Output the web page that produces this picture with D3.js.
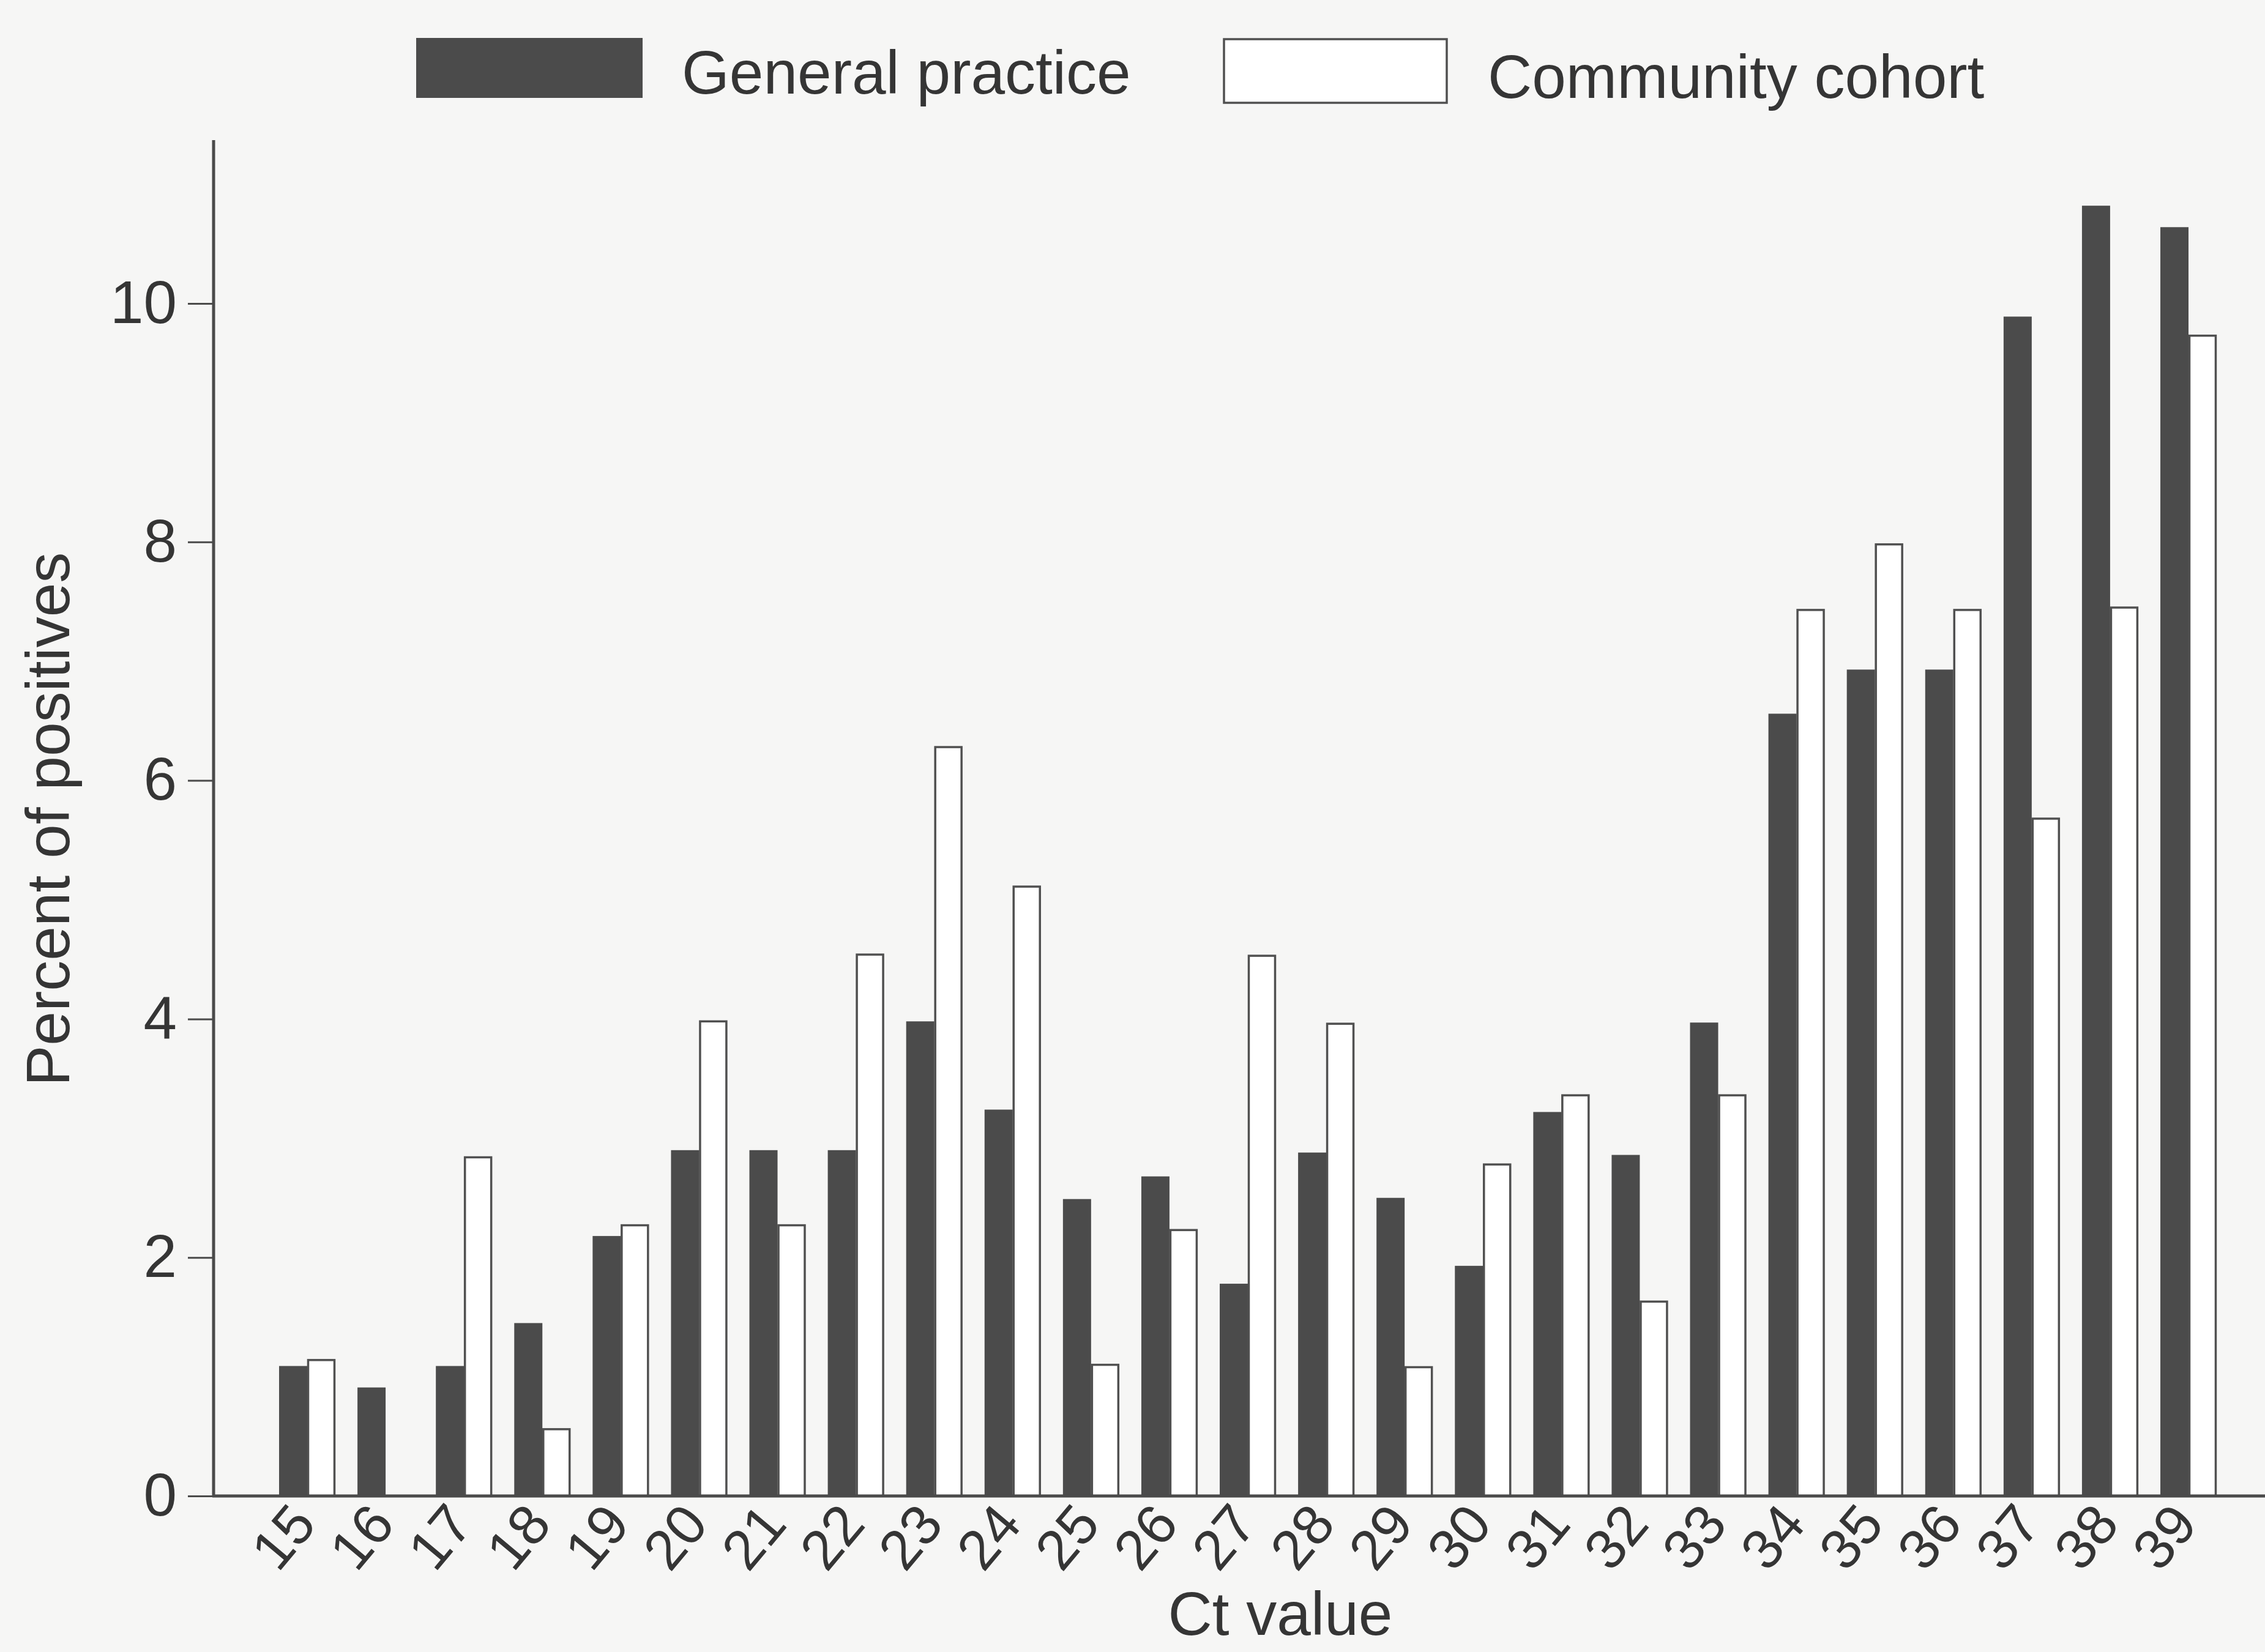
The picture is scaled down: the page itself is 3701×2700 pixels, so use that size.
<!DOCTYPE html>
<html>
<head>
<meta charset="utf-8">
<script src="https://cdn.jsdelivr.net/npm/d3@7"></script>
<style>
  html, body { margin: 0; padding: 0; background: #f6f6f5; }
  svg { display: block; }
  text { font-family: "Liberation Sans", Arial, Helvetica, sans-serif; fill: #353535; }
</style>
</head>
<body>
<script>
// ---- data ----
const categories = ["15","16","17","18","19","20","21","22","23","24","25","26","27","28","29","30","31","32","33","34","35","36","37","38","39"];
const generalPractice = [1.09, 0.91, 1.09, 1.45, 2.18, 2.90, 2.90, 2.90, 3.98, 3.24, 2.49, 2.68, 1.78, 2.88, 2.50, 1.93, 3.22, 2.86, 3.97, 6.56, 6.93, 6.93, 9.89, 10.82, 10.64];
const communityCohort = [1.14, 0, 2.84, 0.56, 2.27, 3.98, 2.27, 4.54, 6.28, 5.11, 1.10, 2.23, 4.53, 3.96, 1.08, 2.78, 3.36, 1.63, 3.36, 7.43, 7.98, 7.43, 5.68, 7.45, 9.73];
const seriesNames = ["General practice", "Community cohort"];
const yTicks = [0, 2, 4, 6, 8, 10];
const xTitle = "Ct value";
const yTitle = "Percent of positives";

// ---- layout ----
const W = 3701, H = 2700;
const baseY = 2445, topY = 229, axisX = 349;
const axisColor = "#4a4a4a";
const darkFill = "#4b4b4b";

const svg = d3.select("body").append("svg").attr("width", W).attr("height", H);
svg.append("rect").attr("width", W).attr("height", H).attr("fill", "#f6f6f5");

const y = d3.scaleLinear().domain([0, 10]).range([baseY, 496]);

const x = d3.scaleBand().domain(categories).range([437.96, 3640.04])
  .paddingInner(0.282).paddingOuter(0.141);
const xs = d3.scaleBand().domain(seriesNames).range([0, x.bandwidth()]);

const rows = categories.map((c, i) => ({ c, gp: generalPractice[i], cc: communityCohort[i] }));

// bars
const g = svg.append("g");
g.selectAll("rect.gp").data(rows).enter().append("rect")
  .attr("class", "gp")
  .attr("x", d => x(d.c) + xs(seriesNames[0]))
  .attr("width", xs.bandwidth())
  .attr("y", d => y(d.gp))
  .attr("height", d => baseY - y(d.gp))
  .attr("fill", darkFill);

g.selectAll("rect.cc").data(rows.filter(d => d.cc > 0)).enter().append("rect")
  .attr("class", "cc")
  .attr("x", d => x(d.c) + xs(seriesNames[1]) + 1.5)
  .attr("width", xs.bandwidth() - 3)
  .attr("y", d => y(d.cc))
  .attr("height", d => baseY - y(d.cc))
  .attr("fill", "#ffffff")
  .attr("stroke", "#505050")
  .attr("stroke-width", 3.5);

// y axis
const yAxis = d3.axisLeft(y).tickValues(yTicks).tickSize(42).tickPadding(18).tickFormat(d3.format("d"));
const yg = svg.append("g").attr("transform", `translate(${axisX},0)`).call(yAxis);
yg.select(".domain").remove();
yg.selectAll(".tick line").attr("stroke", axisColor).attr("stroke-width", 3);
yg.selectAll(".tick text").attr("font-size", 98).attr("fill", "#353535")
  .attr("font-family", '"Liberation Sans", Arial, sans-serif');
svg.append("line").attr("x1", axisX).attr("x2", axisX).attr("y1", topY).attr("y2", baseY)
  .attr("stroke", axisColor).attr("stroke-width", 5);

// x axis
const xAxis = d3.axisBottom(x).tickSize(0).tickPadding(0);
const xg = svg.append("g").attr("transform", `translate(0,${baseY})`).call(xAxis);
xg.select(".domain").remove();
xg.selectAll(".tick text")
  .attr("font-size", 92)
  .attr("fill", "#353535")
  .attr("font-family", '"Liberation Sans", Arial, sans-serif')
  .attr("text-anchor", "end")
  .attr("dy", null)
  .attr("y", 0)
  .attr("transform", "translate(18,48) rotate(-50)");
svg.append("line").attr("x1", axisX - 2).attr("x2", W).attr("y1", baseY).attr("y2", baseY)
  .attr("stroke", axisColor).attr("stroke-width", 5);

// axis titles
svg.append("text").attr("x", 2092).attr("y", 2672).attr("text-anchor", "middle")
  .attr("font-size", 100).text(xTitle);
svg.append("text").attr("transform", "translate(113,1339) rotate(-90)").attr("text-anchor", "middle")
  .attr("font-size", 100).text(yTitle);

// legend
const leg = svg.append("g");
leg.append("rect").attr("x", 680).attr("y", 62).attr("width", 370).attr("height", 98).attr("fill", darkFill);
leg.append("text").attr("x", 1114).attr("y", 153).attr("font-size", 100).text(seriesNames[0]);
leg.append("rect").attr("x", 2000).attr("y", 64).attr("width", 364).attr("height", 104)
  .attr("fill", "#ffffff").attr("stroke", "#505050").attr("stroke-width", 3.5);
leg.append("text").attr("x", 2431).attr("y", 160).attr("font-size", 100).text(seriesNames[1]);
</script>
</body>
</html>
